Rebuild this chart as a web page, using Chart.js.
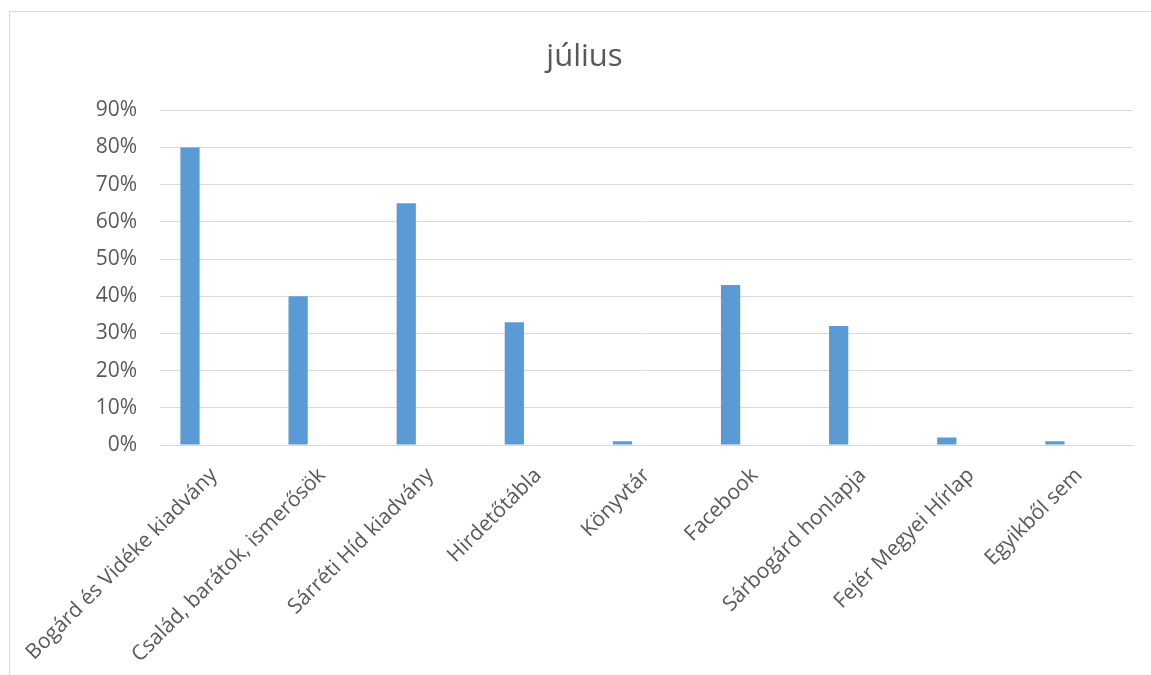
<!DOCTYPE html>
<html>
<head>
<meta charset="utf-8">
<script src="https://cdn.jsdelivr.net/npm/chart.js@4"></script>
<style>
    html, body { margin: 0; padding: 0; background: #fff; }
    #wrap { position: relative; width: 1151px; height: 675px; overflow: hidden; }
    #frame { position: absolute; left: 9px; top: 11px; width: 1160px; height: 700px;
             border-left: 1px solid #d9d9d9; border-top: 1px solid #d9d9d9; }
    canvas { position: absolute; left: 0; top: 0; }
</style>
</head>
<body>
<div id="wrap">
    <div id="frame"></div>
    <canvas id="chart" width="1151" height="675"></canvas>
</div>
<script>
// Categories and values (share of respondents)
const categories = [
    'Bogárd és Vidéke kiadvány',
    'Család, barátok, ismerősök',
    'Sárréti Híd kiadvány',
    'Hirdetőtábla',
    'Könyvtár',
    'Facebook',
    'Sárbogárd honlapja',
    'Fejér Megyei Hírlap',
    'Egyikből sem'
];
const juliusValues = [0.80, 0.40, 0.65, 0.33, 0.01, 0.43, 0.32, 0.02, 0.01];
// second series slot of the original chart, left empty
const emptySeries = [null, null, null, null, null, null, null, null, null];
const yTicks = [0, 0.1, 0.2, 0.3, 0.4, 0.5, 0.6, 0.7, 0.8, 0.9];

const textColor = '#595959';
const fontFamily = '"Open Sans", "Noto Sans", sans-serif';

const ctx = document.getElementById('chart').getContext('2d');
const chart = new Chart(ctx, {
    type: 'bar',
    data: {
        labels: categories,
        datasets: [{
            label: 'július',
            data: juliusValues,
            backgroundColor: '#5b9bd5',
            borderWidth: 0,
            barPercentage: 0.4,
            categoryPercentage: 0.89
        }, {
            label: '',
            data: emptySeries,
            backgroundColor: '#ed7d31',
            barPercentage: 0.4,
            categoryPercentage: 0.89
        }]
    },
    options: {
        responsive: false,
        animation: false,
        layout: {
            padding: { left: 36, right: 18, top: 39, bottom: 0 }
        },
        plugins: {
            legend: { display: false },
            tooltip: { enabled: false },
            title: {
                display: true,
                text: 'július',
                color: textColor,
                font: { family: fontFamily, size: 31, weight: 'normal' },
                padding: { top: 0, bottom: 34 }
            }
        },
        scales: {
            x: {
                afterFit: function(axis) {
                    axis.height = 230;
                },
                grid: { display: false, drawTicks: false },
                border: { display: true, color: '#d9d9d9', width: 1 },
                ticks: {
                    color: textColor,
                    font: { family: fontFamily, size: 21 },
                    maxRotation: 45,
                    minRotation: 45,
                    autoSkip: false,
                    labelOffset: 0,
                    padding: 18
                }
            },
            y: {
                min: 0,
                max: 0.9,
                afterBuildTicks: function(axis) {
                    axis.ticks = yTicks.map(v => ({ value: v }));
                },
                afterFit: function(axis) {
                    axis.width = 124;
                },
                grid: { color: '#d9d9d9', lineWidth: 1, drawTicks: false },
                border: { display: false },
                ticks: {
                    color: textColor,
                    font: { family: fontFamily, size: 21 },
                    padding: 23,
                    callback: function(value) {
                        return Math.round(value * 100) + '%';
                    }
                }
            }
        }
    }
});
</script>
</body>
</html>
